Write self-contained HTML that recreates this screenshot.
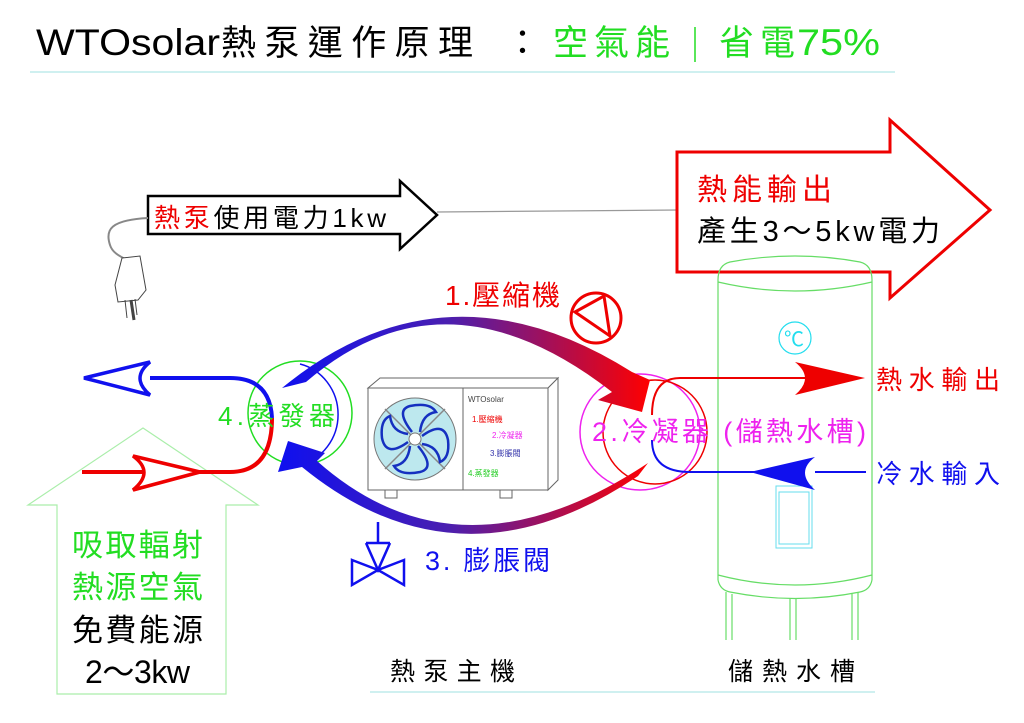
<!DOCTYPE html>
<html><head><meta charset="utf-8"><style>
html,body{margin:0;padding:0;background:#fff;}
svg{display:block;}
text{font-family:"Liberation Sans","Noto Sans CJK TC",sans-serif;}
</style></head><body>
<svg width="1024" height="723" viewBox="0 0 1024 723" xmlns="http://www.w3.org/2000/svg">
<defs>
<linearGradient id="gt" gradientUnits="userSpaceOnUse" x1="283" y1="0" x2="650" y2="0"><stop offset="0" stop-color="#1010ee"/><stop offset="0.45" stop-color="#4a1fb0"/><stop offset="1" stop-color="#ff0000"/></linearGradient>
</defs>

<path d="M143,428 L258,505 L226,505 L226,694 L57,694 L57,505 L28,505 Z" fill="none" stroke="#aaeeaa" stroke-width="1.2"/>

<text x="36" y="55" font-size="37" fill="#000" textLength="184" lengthAdjust="spacingAndGlyphs">WTOsolar</text>
<text x="221" y="55" font-size="35" fill="#000" textLength="252">熱泵運作原理</text>
<text x="505" y="55" font-size="35" fill="#000">：</text>
<text x="553" y="55" font-size="35" fill="#22dd22" textLength="117">空氣能</text>
<line x1="695" y1="27" x2="695" y2="62" stroke="#22dd22" stroke-width="1.5"/>
<text x="719" y="55" font-size="35" fill="#22dd22" textLength="76">省電</text>
<text x="797" y="55" font-size="37" fill="#22dd22" textLength="83" lengthAdjust="spacingAndGlyphs">75%</text>
<line x1="30" y1="72" x2="895" y2="72" stroke="#9fe0e0" stroke-width="1"/>

<path d="M148,196 L400,196 L400,181 L437,215 L400,249 L400,234 L148,234 Z" fill="#fff" stroke="#000" stroke-width="2.5"/>
<text x="154" y="227" font-size="26" fill="#e00" textLength="232">熱泵<tspan fill="#000">使用電力1kw</tspan></text>
<line x1="437" y1="212" x2="678" y2="210" stroke="#999" stroke-width="1.2"/>
<path d="M148,218 C110,220 105,230 110,245 C113,255 125,258 130,262" fill="none" stroke="#888" stroke-width="2"/>
<path d="M122,258 L140,256 L146,290 L138,300 L118,302 L115,285 Z" fill="#fff" stroke="#444" stroke-width="1"/>
<line x1="125" y1="300" x2="127" y2="318" stroke="#444"/><line x1="135" y1="299" x2="137" y2="315" stroke="#444"/>
<line x1="131" y1="300" x2="134" y2="320" stroke="#444" stroke-width="3"/>

<path d="M677,152 L890,152 L890,120 L990,210 L890,298 L890,272 L677,272 Z" fill="#fff" stroke="#e00" stroke-width="3"/>
<text x="697" y="200" font-size="30" fill="#e00" textLength="135">熱能輸出</text>
<text x="697" y="241" font-size="29" fill="#000" textLength="243">產生3～5kw電力</text>

<g fill="none" stroke="#66dd66" stroke-width="1.2">
<path d="M718,280 Q718,265 730,262 Q795,250 860,262 Q872,265 872,280"/>
<path d="M718,282 Q795,300 872,282"/>
<line x1="718" y1="280" x2="718" y2="580"/><line x1="872" y1="280" x2="872" y2="580"/>
<path d="M718,575 Q795,595 872,575"/>
<path d="M718,580 Q720,590 730,592 Q795,605 860,592 Q870,590 872,580"/>
<line x1="726" y1="592" x2="726" y2="640"/><line x1="732" y1="594" x2="732" y2="640"/>
<line x1="790" y1="598" x2="790" y2="640"/><line x1="796" y1="598" x2="796" y2="640"/>
<line x1="852" y1="594" x2="852" y2="640"/><line x1="858" y1="592" x2="858" y2="640"/>
</g>
<circle cx="795" cy="338" r="16" fill="none" stroke="#22ddee" stroke-width="1.2"/>
<text x="784" y="346" font-size="20" fill="#22ddee">℃</text>
<rect x="776" y="486" width="36" height="62" fill="none" stroke="#66ddee" stroke-width="1"/>
<rect x="779" y="492" width="30" height="52" fill="none" stroke="#66ddee" stroke-width="1"/>

<circle cx="300" cy="413" r="52" fill="none" stroke="#22dd22" stroke-width="1.5"/>
<path d="M300,364 A50,52 0 0 1 300,465" fill="none" stroke="#1010ee" stroke-width="1.5"/>
<ellipse cx="640" cy="432" rx="60" ry="58" fill="none" stroke="#ee22ee" stroke-width="1.5"/>
<circle cx="655" cy="432" r="52" fill="none" stroke="#ee0000" stroke-width="1.5"/>

<path d="M282,388 Q445,254 632,372 L650,380 L642,412 L598,400 L612,392 Q445,262 306,382 Z" fill="url(#gt)"/>
<path d="M648,463 Q460,588 317,461 L325,453 L288,441 L278,472 L302,467 Q460,596 638,476 Z" fill="url(#gt)"/>

<g stroke="#666" stroke-width="1" fill="#fff">
<path d="M368,388 L380,378 L558,378 L548,388 Z"/>
<path d="M548,388 L558,378 L558,480 L548,490 Z"/>
<rect x="368" y="388" width="180" height="102"/>
<line x1="463" y1="388" x2="463" y2="490"/>
<rect x="385" y="490" width="12" height="8"/><rect x="500" y="490" width="12" height="8"/>
</g>
<circle cx="415" cy="439" r="41" fill="#bde8ee" stroke="#777"/>
<line x1="385" y1="409" x2="445" y2="469" stroke="#888" stroke-width="1.5"/>
<line x1="445" y1="409" x2="385" y2="469" stroke="#888" stroke-width="1.5"/>
<g stroke="#1530c0" stroke-width="2.5" fill="none">
<path d="M412,432 Q395,410 410,406 Q430,402 436,412 Q422,414 420,432"/>
<path d="M422,436 Q444,420 448,440 Q450,458 440,462 Q438,446 422,444"/>
<path d="M418,446 Q436,468 420,472 Q400,476 394,466 Q408,464 410,446"/>
<path d="M408,442 Q386,458 382,438 Q380,420 390,416 Q392,432 408,434"/>
</g>
<circle cx="415" cy="439" r="6" fill="#fff" stroke="#777"/>
<text x="468" y="402" font-size="8" fill="#444">WTOsolar</text>
<text x="472" y="422" font-size="8" fill="#e00">1.壓縮機</text>
<text x="492" y="438" font-size="8" fill="#e2e">2.冷凝器</text>
<text x="490" y="456" font-size="8" fill="#33a">3.膨脹閥</text>
<text x="468" y="476" font-size="8" fill="#2c2">4.蒸發器</text>

<path d="M150,378 L230,378 Q270,378 272,418" fill="none" stroke="#1010ee" stroke-width="4"/>
<path d="M272,418 Q272,472 230,472 L82,472" fill="none" stroke="#ee0000" stroke-width="4"/>
<path d="M150,362 L84,378 L150,395 Q130,378 150,362 Z" fill="#fff" stroke="#1010ee" stroke-width="3.5"/>
<path d="M133,456 L200,472 L133,490 Q155,472 133,456 Z" fill="#fff" stroke="#ee0000" stroke-width="3.5"/>
<text x="218" y="425" font-size="26" fill="#22dd22" textLength="117">4.蒸發器</text>

<path d="M818,378 L680,378 Q652,378 652,415" fill="none" stroke="#ee0000" stroke-width="2"/>
<path d="M795,362 L865,378 L795,395 Q815,378 795,362 Z" fill="#ee0000"/>
<path d="M652,440 Q652,472 690,472 L760,472" fill="none" stroke="#1010ee" stroke-width="2"/>
<path d="M815,457 L750,472 L815,490 Q795,472 815,457 Z" fill="#1010ee"/>
<line x1="815" y1="472" x2="866" y2="472" stroke="#1010ee" stroke-width="2"/>
<text x="876" y="389" font-size="26" fill="#e00" textLength="124">熱水輸出</text>
<text x="876" y="483" font-size="26" fill="#1010ee" textLength="124">冷水輸入</text>
<text x="592" y="441" font-size="27" fill="#ee22ee" textLength="274">2.冷凝器 (儲熱水槽)</text>

<text x="445" y="305" font-size="28" fill="#e00" textLength="115">1.壓縮機</text>
<circle cx="596" cy="318" r="25" fill="none" stroke="#e00" stroke-width="3"/>
<path d="M575,312 L604,296 L610,336 Z" fill="none" stroke="#e00" stroke-width="3"/>

<line x1="378" y1="522" x2="378" y2="543" stroke="#1010ee" stroke-width="2.5"/>
<line x1="366" y1="543" x2="390" y2="543" stroke="#1010ee" stroke-width="2.5"/>
<path d="M352,560 L378,570 L352,585 Z M404,560 L378,570 L404,585 Z M366,543 L378,570 L390,543" fill="none" stroke="#1010ee" stroke-width="2.5"/>
<text x="425" y="570" font-size="27" fill="#1010ee" textLength="125">3. 膨脹閥</text>

<text x="72" y="556" font-size="31" fill="#22dd22" textLength="131">吸取輻射</text>
<text x="72" y="598" font-size="31" fill="#22dd22" textLength="131">熱源空氣</text>
<text x="72" y="641" font-size="31" fill="#000" textLength="131">免費能源</text>
<text x="85" y="683" font-size="32" fill="#000" textLength="105">2～3kw</text>

<text x="390" y="680" font-size="25" fill="#000" textLength="125">熱泵主機</text>
<text x="728" y="680" font-size="25" fill="#000" textLength="127">儲熱水槽</text>
<line x1="370" y1="692" x2="875" y2="692" stroke="#9fe0e0" stroke-width="1"/>
</svg>
</body></html>
